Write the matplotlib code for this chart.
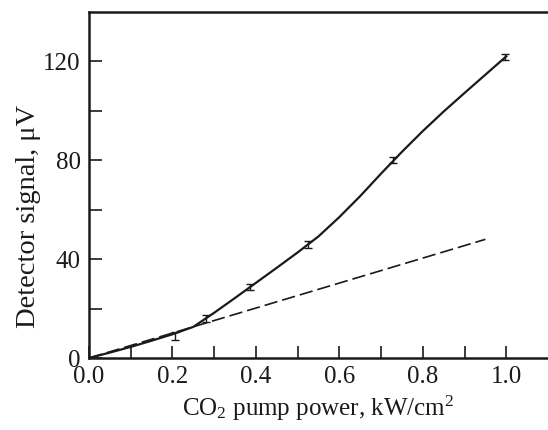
import matplotlib
matplotlib.use('Agg')
import matplotlib.pyplot as plt
from matplotlib.ticker import FixedLocator

plt.rcParams['font.family'] = 'Liberation Serif'
plt.rcParams['mathtext.fontset'] = 'custom'
plt.rcParams['mathtext.rm'] = 'Liberation Serif'
plt.rcParams['mathtext.it'] = 'Liberation Serif:italic'

# measured points with error bars
x_pts = [0.205, 0.28, 0.387, 0.525, 0.728, 0.998]
y_pts = [8.8, 15.8, 28.8, 45.8, 80.2, 121.8]
y_err = [1.6, 1.4, 1.3, 1.5, 1.2, 1.2]

# solid curve drawn through the data
x_curve = [0, 0.05, 0.1, 0.15, 0.2, 0.25, 0.3, 0.35, 0.4, 0.45, 0.5, 0.55,
           0.6, 0.65, 0.7, 0.75, 0.8, 0.85, 0.9, 0.95, 1.0]
y_curve = [0, 2.2, 4.5, 7.0, 9.6, 12.6, 18.3, 24.3, 30.4, 36.5, 42.7, 49.2,
           57.0, 65.5, 74.6, 83.4, 91.8, 99.7, 107.2, 114.6, 122.0]

# dashed linear part
x_lin = [0, 0.95]
y_lin = [0, 48]

fig = plt.figure(figsize=(5.48, 4.30), dpi=100)
ax = fig.add_axes([0.1624, 0.1674, 0.8376, 0.805])

ax.plot(x_curve, y_curve, color='#1a1a1a', lw=1.6)
ax.plot(x_lin, y_lin, color='#1a1a1a', lw=1.2, dashes=(8, 3))
ax.errorbar(x_pts, y_pts, yerr=y_err, fmt='none', ecolor='#1a1a1a',
            elinewidth=1.0, capsize=3, capthick=1.0)

ax.set_xlim(0, 1.1)
ax.set_ylim(0, 140)
ax.set_xticks([0.0, 0.2, 0.4, 0.6, 0.8, 1.0])
ax.set_xticklabels(['0.0', '0.2', '0.4', '0.6', '0.8', '1.0'])
ax.xaxis.set_minor_locator(FixedLocator([0.1, 0.3, 0.5, 0.7, 0.9]))
ax.set_yticks([0, 40, 80, 120])
ax.yaxis.set_minor_locator(FixedLocator([20, 60, 100]))
ax.tick_params(which='both', direction='in', length=9, width=1.2,
               labelsize=18, colors='#1a1a1a', pad=6, top=False, right=False)

ax.spines['right'].set_visible(False)
for s in ['left', 'bottom', 'top']:
    ax.spines[s].set_linewidth(1.8)
    ax.spines[s].set_color('#1a1a1a')

ax.set_xlabel('CO$_2$ pump power, kW/cm$^2$', fontsize=18, color='#1a1a1a', labelpad=4)
ax.set_ylabel('Detector signal, μV', fontsize=20.5, color='#1a1a1a')
ax.yaxis.set_label_coords(-0.104, 0.41)

fig.savefig('out.png', dpi=100)
